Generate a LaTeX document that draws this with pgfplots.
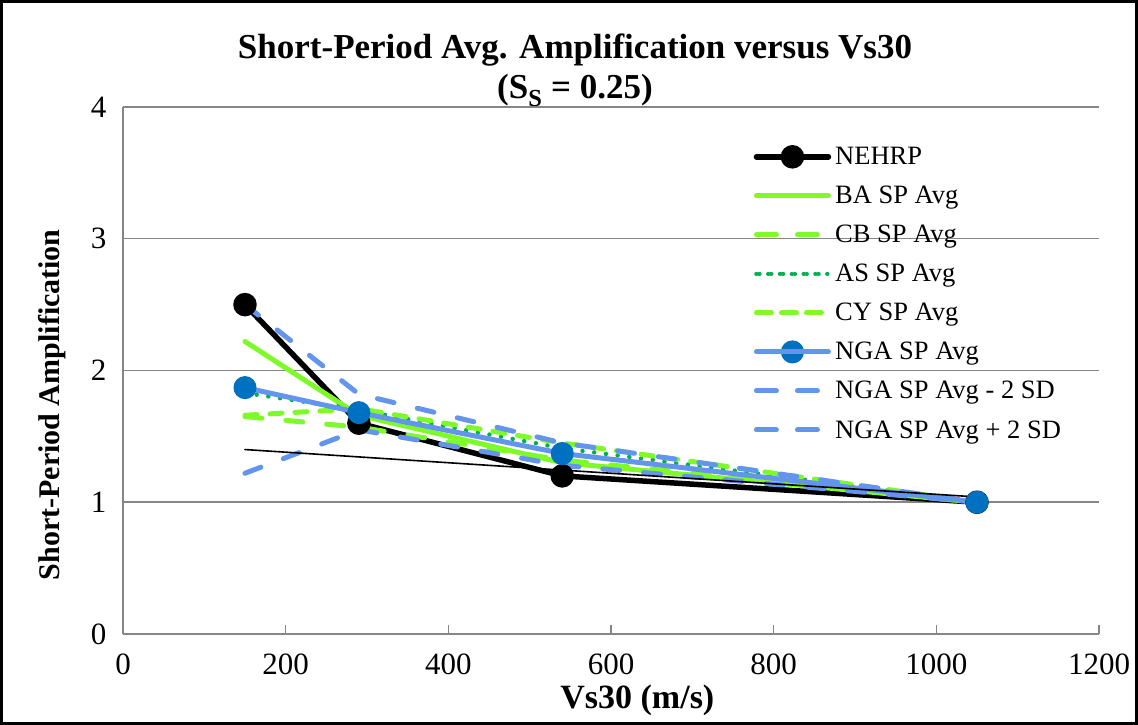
\documentclass[border=0pt]{standalone}
\usepackage{pgfplots}
\pgfplotsset{compat=1.18}
\usepackage{pgfplotstable}
\usepackage{fontspec}
\setmainfont{Liberation Serif}

\definecolor{lime}{RGB}{125,250,40}
\definecolor{asgreen}{RGB}{0,176,80}
\definecolor{ngaline}{RGB}{100,149,237}
\definecolor{ngamark}{RGB}{0,112,192}
\definecolor{gridgray}{RGB}{134,134,134}

% Short-period amplification factors by site Vs30 (m/s)
\pgfplotstableread{
x y
150 2.50
290 1.60
540 1.20
1050 1.00
}\nehrp
\pgfplotstableread{
x y
150 2.22
290 1.66
540 1.30
1050 1.00
}\ba
\pgfplotstableread{
x y
150 1.65
290 1.57
540 1.32
1050 1.00
}\cb
\pgfplotstableread{
x y
150 1.83
290 1.70
540 1.41
1050 1.00
}\as
\pgfplotstableread{
x y
150 1.66
290 1.71
540 1.45
1050 1.00
}\cy
\pgfplotstableread{
x y
150 1.87
290 1.68
540 1.37
1050 1.00
}\nga
\pgfplotstableread{
x y
150 1.22
290 1.55
540 1.28
1050 1.00
}\ngalo
\pgfplotstableread{
x y
150 2.50
290 1.82
540 1.45
1050 1.00
}\ngahi
\pgfplotstableread{
x y
150 1.40
1050 1.04
}\trend

\begin{document}
\begin{tikzpicture}[x=1bp,y=1bp]
\useasboundingbox (0,0) rectangle (1138,725);
\draw[line width=2.5bp] (1.5,1.5) rectangle (1136.5,723.5);

\node[anchor=base, font=\bfseries\fontsize{35bp}{40bp}\selectfont] at (575,666) {Short-Period Avg. Amplification versus Vs30};
\node[anchor=base, font=\bfseries\fontsize{35bp}{40bp}\selectfont] at (575,626) {(S\textsubscript{S} = 0.25)};

\begin{axis}[
  at={(123bp,91bp)}, anchor=south west,
  width=976bp, height=527bp, scale only axis,
  xmin=0, xmax=1200, ymin=0, ymax=4,
  xtick={0,200,...,1200}, ytick={0,1,2,3,4},
  axis x line*=bottom, axis y line*=left,
  axis line style={gridgray, line width=1.5bp, -},
  ymajorgrids, grid style={gridgray, line width=1.5bp},
  xtick align=inside, major tick length=9bp,
  xtick style={gridgray, line width=1.5bp},
  ytick style={draw=none},
  /pgf/number format/assume math mode=true,
  /pgf/number format/1000 sep={},
  tick label style={font=\fontsize{31bp}{34bp}\selectfont, black},
  xticklabel style={yshift=-16bp},
  yticklabel style={xshift=-13bp},
  xlabel={Vs30 (m/s)},
  ylabel={Short-Period Amplification},
  xlabel style={font=\bfseries\fontsize{34bp}{38bp}\selectfont,
    at={(0.527,0)}, anchor=center, yshift=-66bp},
  ylabel style={font=\bfseries\fontsize{30bp}{34bp}\selectfont,
    at={(0,0.435)}, anchor=center, yshift=71bp},
  legend style={at={(0.646,0.937)}, anchor=north west, draw=none, fill=none,
    font=\fontsize{26.5bp}{30bp}\selectfont, row sep=10bp,
    nodes={inner sep=5bp}},
  legend cell align=left,
  legend image code/.code={%
    \draw[overlay, mark repeat=2, mark phase=2, #1] plot coordinates {(-3bp,0bp) (33bp,0bp) (69bp,0bp)};
    \path (0bp,0bp) -- (68bp,0bp);},
  every axis plot/.append style={line cap=round, line join=round},
  clip=false,
]
\addplot[black, line width=5.5bp, mark=*, mark size=9bp, mark options={solid, fill=black}] table {\nehrp};
\addlegendentry{NEHRP}
\addplot[lime, line width=5bp] table {\ba};
\addlegendentry{BA SP Avg}
\addplot[lime, line width=5bp, dash pattern=on 17bp off 24bp] table {\cb};
\addlegendentry{CB SP Avg}
\addplot[asgreen, line width=4.5bp, dash pattern=on 0.01bp off 11.8bp] table {\as};
\addlegendentry{AS SP Avg}
\addplot[lime, line width=5bp, dash pattern=on 12bp off 13bp] table {\cy};
\addlegendentry{CY SP Avg}
\addplot[ngaline, line width=5bp, mark=*, mark size=9bp, mark options={solid, draw=ngamark, fill=ngamark}] table {\nga};
\addlegendentry{NGA SP Avg}
\addplot[ngaline, line width=5bp, dash pattern=on 17bp off 24bp] table {\ngalo};
\addlegendentry{NGA SP Avg - 2 SD}
\addplot[ngaline, line width=5bp, dash pattern=on 17bp off 24bp] table {\ngahi};
\addlegendentry{NGA SP Avg + 2 SD}
\addplot[black, line width=1.6bp, forget plot] table {\trend};
\end{axis}
\end{tikzpicture}
\end{document}
